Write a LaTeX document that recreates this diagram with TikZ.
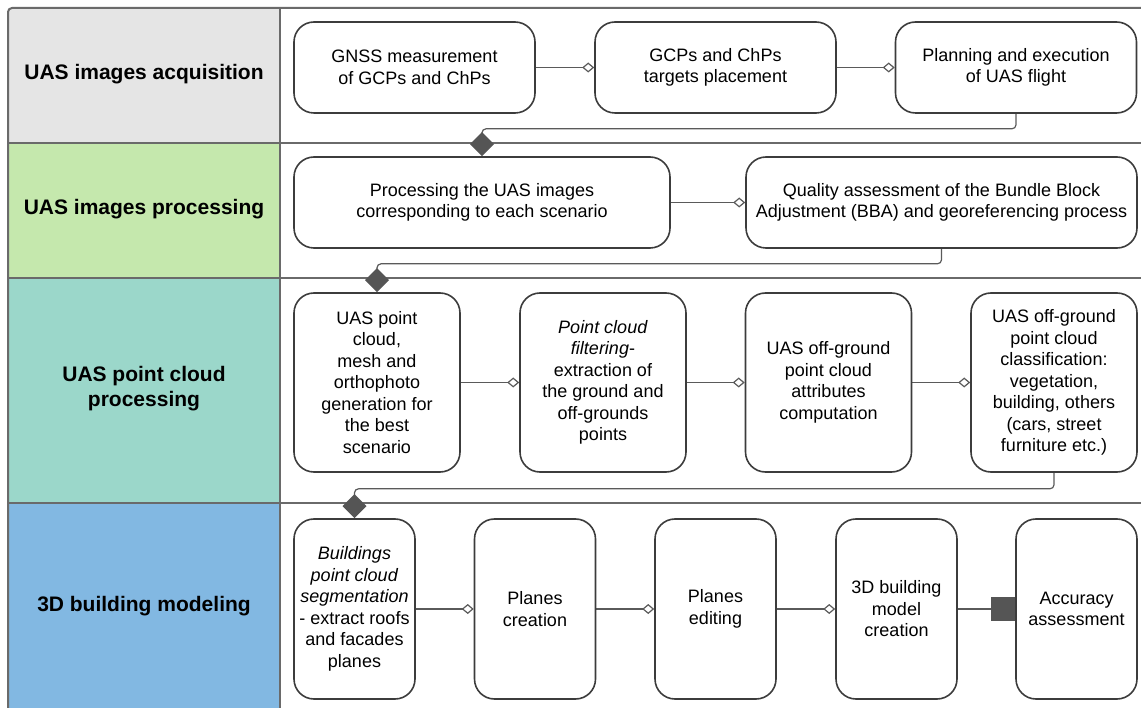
\documentclass[tikz,border=0pt]{standalone}
\usepackage{fontspec}
\setmainfont{Liberation Sans}
\usetikzlibrary{arrows.meta}
\pgfdeclarelayer{lanelayer}
\pgfdeclarelayer{edgelayer}
\pgfdeclarelayer{nodelayer}
\pgfsetlayers{lanelayer,edgelayer,nodelayer,main}
\definecolor{gridline}{HTML}{6A6A6A}
\definecolor{boxline}{HTML}{3C3C3C}
\definecolor{linkline}{HTML}{5A5A5A}
\definecolor{tipfill}{HTML}{555555}
\definecolor{acqfill}{HTML}{E5E5E5}
\definecolor{procfill}{HTML}{C5E8AD}
\definecolor{cloudfill}{HTML}{9BD7CA}
\definecolor{modelfill}{HTML}{82B8E2}
\tikzstyle{lane}=[draw=gridline, line width=2pt]
\tikzstyle{lanetitle}=[align=center, font=\bfseries\fontsize{21}{25}\selectfont]
\tikzstyle{task}=[rectangle, rounded corners=20pt, draw=boxline, line width=1.6pt, fill=white, align=center, inner sep=0pt, font=\fontsize{18}{21.5}\selectfont]
\tikzstyle{acqtask}=[task, minimum width=241pt, minimum height=91pt]
\tikzstyle{proctask}=[task, minimum height=91pt]
\tikzstyle{cloudtask}=[task, minimum width=166pt, minimum height=179pt]
\tikzstyle{modeltask}=[task, minimum width=121pt, minimum height=180pt]
\tikzstyle{next}=[-{Diamond[open, length=12pt, width=10pt]}, draw=linkline, line width=1.2pt]
\tikzstyle{final}=[-{Square[length=24pt, width=24pt, color=tipfill]}, draw=linkline, line width=1.2pt]
\tikzstyle{carry}=[-{Diamond[length=24pt, width=24pt, color=tipfill]}, draw=linkline, line width=1.2pt, rounded corners=4pt]

\begin{document}
\begin{tikzpicture}[x=1pt, y=1pt]
	\useasboundingbox (0, 0) rectangle (1141, -708);
	\begin{pgfonlayer}{lanelayer}
		\fill [acqfill] (8, -143) [rounded corners=4pt] |- (280, -8) [sharp corners] -- (280, -143) -- cycle;
		\fill [procfill] (8, -143) rectangle (280, -278);
		\fill [cloudfill] (8, -278) rectangle (280, -503);
		\fill [modelfill] (8, -503) rectangle (280, -708);
		\draw [style=lane, rounded corners=4pt] (8, -708) |- (1141, -8);
		\draw [style=lane] (280, -8) -- (280, -708);
		\foreach \y in {143, 278, 503}
			\draw [style=lane] (8, -\y) -- (1141, -\y);
	\end{pgfonlayer}
	\begin{pgfonlayer}{nodelayer}
		\node [style=lanetitle] (20) at (144, -74) {UAS images acquisition};
		\node [style=lanetitle] (21) at (144, -209) {UAS images processing};
		\node [style=lanetitle] (22) at (144, -389) {UAS point cloud\\processing};
		\node [style=lanetitle] (23) at (144, -606) {3D building modeling};

		\node [style=acqtask] (0) at (414.5, -67.5) {GNSS measurement\\of GCPs and ChPs};
		\node [style=acqtask] (1) at (715.5, -67.5) {GCPs and ChPs\\targets placement};
		\node [style=acqtask] (2) at (1016, -67.5) {Planning and execution\\of UAS flight};

		\node [style=proctask, minimum width=376pt] (3) at (482, -202.5) {Processing the UAS images\\corresponding to each scenario};
		\node [style=proctask, minimum width=391pt] (4) at (941.5, -202.5) {Quality assessment of the Bundle Block\\Adjustment (BBA) and georeferencing process};

		\node [style=cloudtask] (5) at (377, -382.5) {UAS point\\cloud,\\mesh and\\orthophoto\\generation for\\the best\\scenario};
		\node [style=cloudtask] (6) at (603, -382.5) {\textit{Point cloud}\\\textit{filtering}-\\extraction of\\the ground and\\off-grounds\\points};
		\node [style=cloudtask] (7) at (828.5, -382.5) {UAS off-ground\\point cloud\\attributes\\computation};
		\node [style=cloudtask] (8) at (1054, -382.5) {UAS off-ground\\point cloud\\classification:\\vegetation,\\building, others\\(cars, street\\furniture etc.)};

		\node [style=modeltask] (9) at (354.5, -609) {\textit{Buildings}\\\textit{point cloud}\\\textit{segmentation}\\- extract roofs\\and facades\\planes};
		\node [style=modeltask] (10) at (535, -609) {Planes\\creation};
		\node [style=modeltask] (11) at (715.5, -609) {Planes\\editing};
		\node [style=modeltask] (12) at (896.5, -609) {3D building\\model\\creation};
		\node [style=modeltask] (13) at (1076.5, -609) {Accuracy\\assessment};
	\end{pgfonlayer}
	\begin{pgfonlayer}{edgelayer}
		\draw [style=next] (0) to (1);
		\draw [style=next] (1) to (2);
		\draw [style=carry] (2.south) -- ++(0, -15) -| (3.north);
		\draw [style=next] (3) to (4);
		\draw [style=carry] (4.south) -- ++(0, -15) -| (5.north);
		\draw [style=next] (5) to (6);
		\draw [style=next] (6) to (7);
		\draw [style=next] (7) to (8);
		\draw [style=carry] (8.south) -- ++(0, -16) -| (9.north);
		\draw [style=next] (9) to (10);
		\draw [style=next] (10) to (11);
		\draw [style=next] (11) to (12);
		\draw [style=final] (12) to (13);
	\end{pgfonlayer}
\end{tikzpicture}
\end{document}
